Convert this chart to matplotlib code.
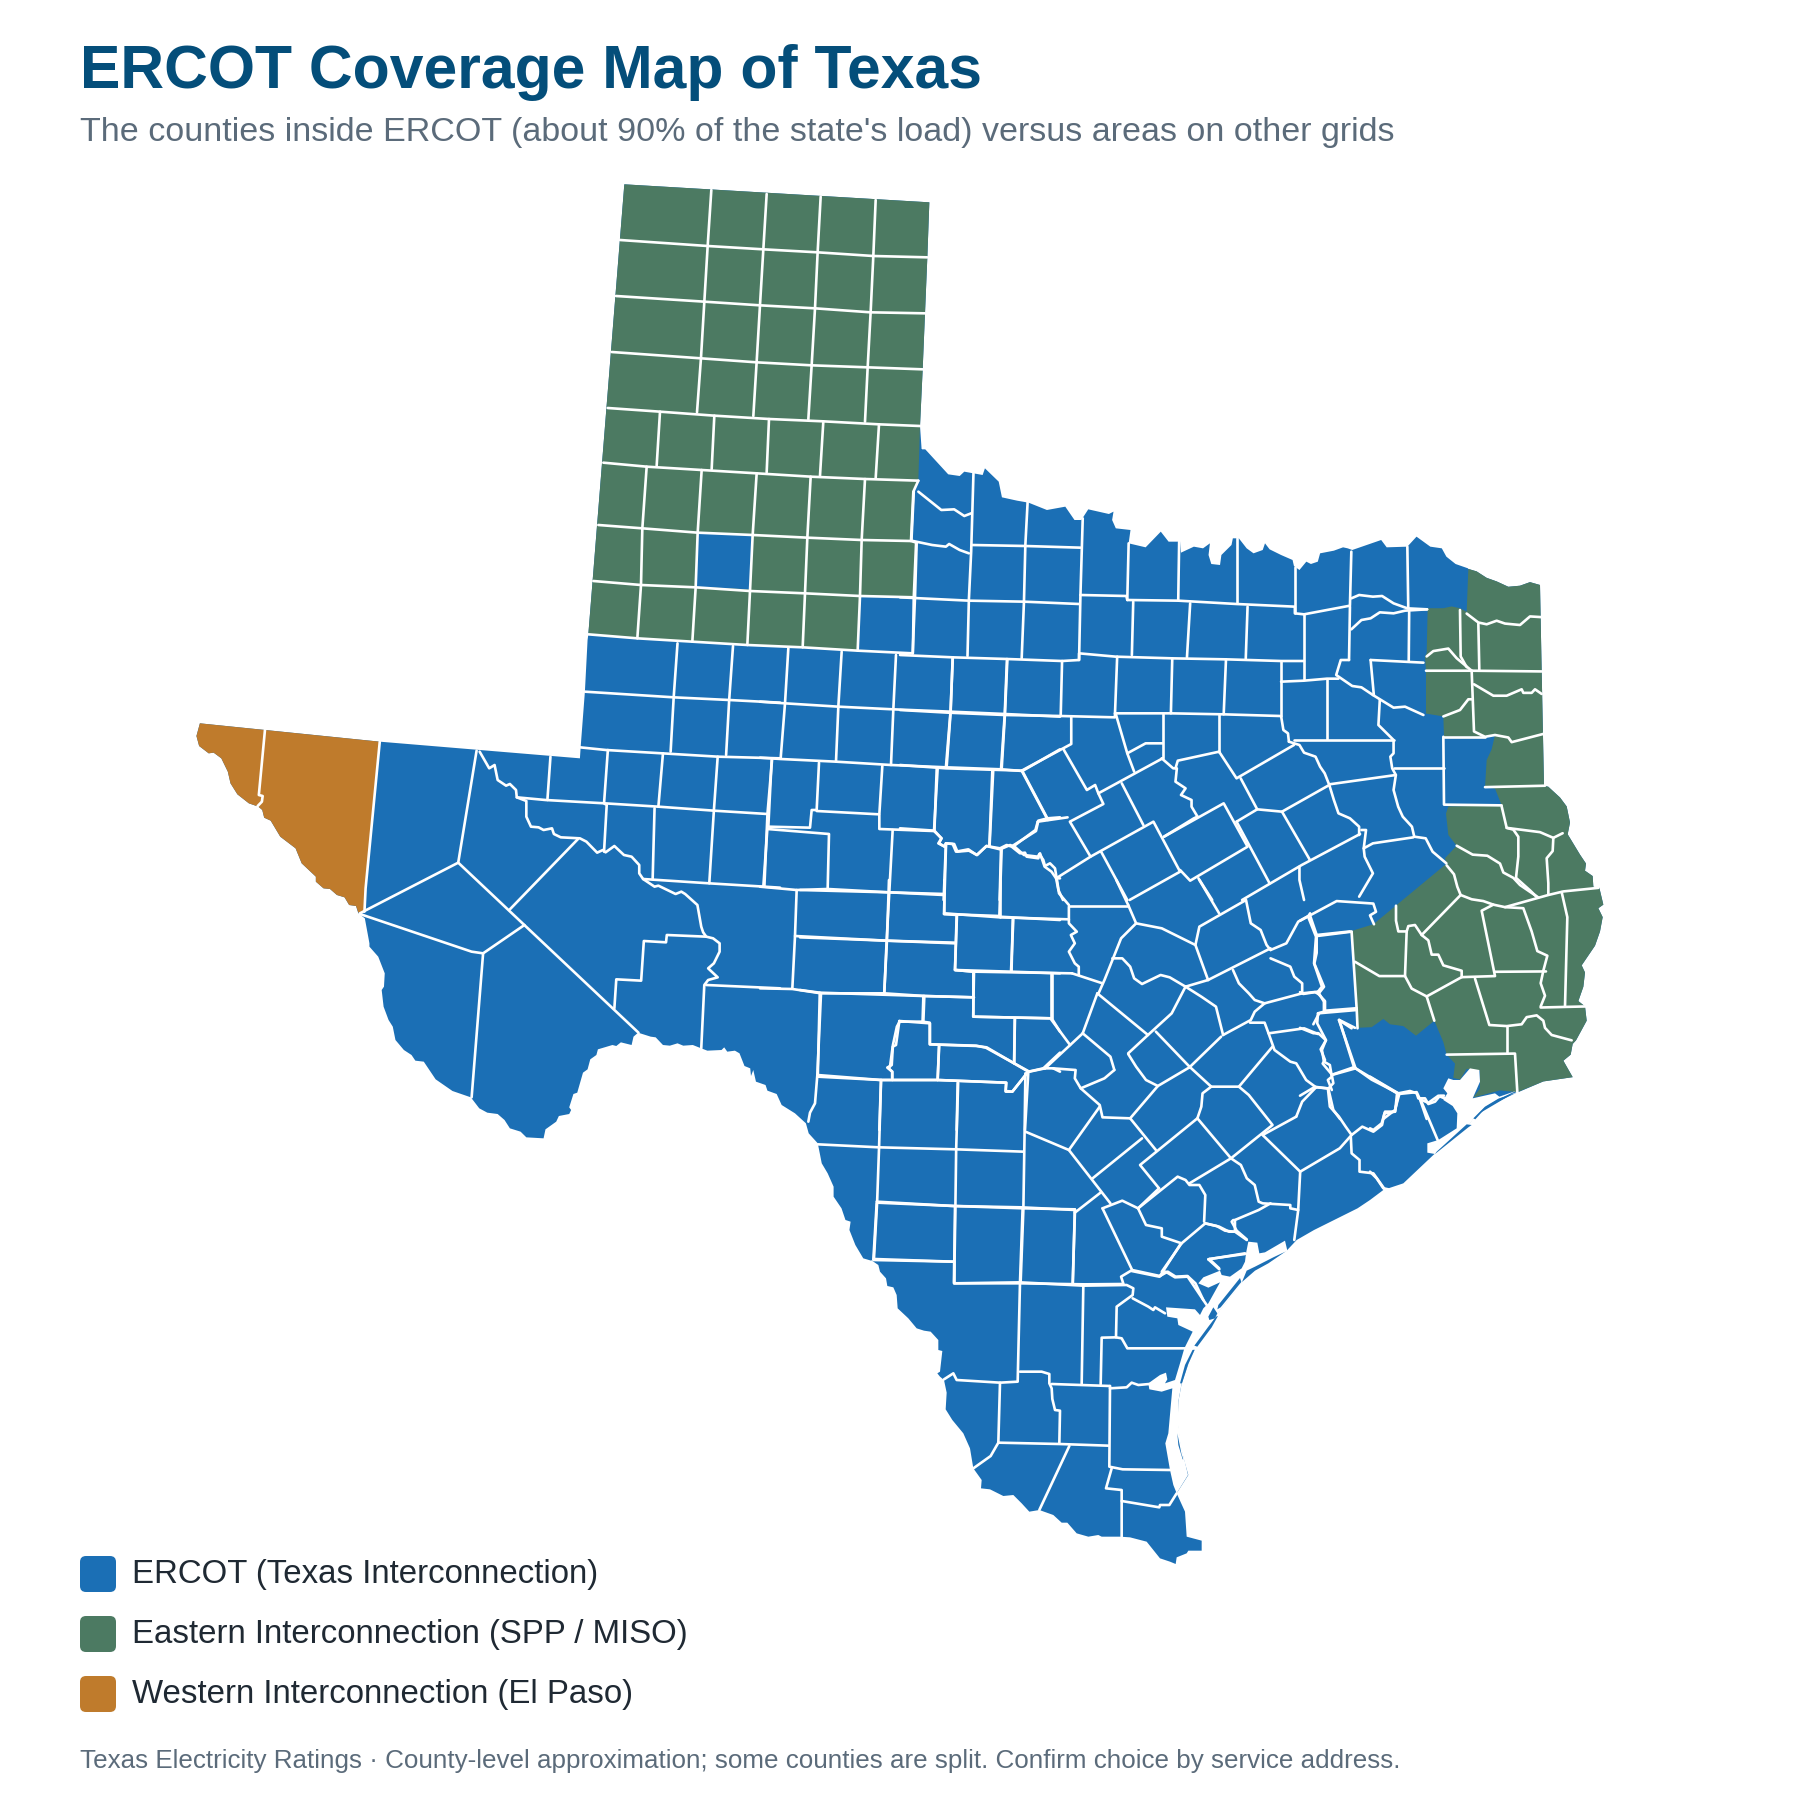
import matplotlib
matplotlib.use('Agg')
import matplotlib.pyplot as plt
from matplotlib.patches import Polygon, FancyBboxPatch

plt.rcParams['font.family'] = ['Liberation Sans', 'DejaVu Sans']

BLUE = '#1b6fb5'
GREEN = '#4c7a62'
ORANGE = '#bf7b2c'

title = 'ERCOT Coverage Map of Texas'
subtitle = "The counties inside ERCOT (about 90% of the state's load) versus areas on other grids"
footer = 'Texas Electricity Ratings · County-level approximation; some counties are split. Confirm choice by service address.'
legend_labels = ['ERCOT (Texas Interconnection)', 'Eastern Interconnection (SPP / MISO)', 'Western Interconnection (El Paso)']
legend_colors = [BLUE, GREEN, ORANGE]

crops = {
    'a': (560, 170, 3, 3),
    'b': (180, 640, 2.613, 3),
    'c': (900, 440, 2.178, 3),
    'd': (1300, 560, 3, 2.8),
    'e': (800, 880, 2.529, 3),
    'f': (800, 1200, 3, 3),
    'g': (760, 630, 3, 3),
    'h': (1370, 1030, 3, 3),
    'i': (1140, 1220, 3, 3),
}

state_outline = [
    ('a', [(193, 43), (1108, 97), (1102, 262), (1095, 430), (1088, 598), (1080, 768), (1085, 840)]),
    ('c', [(45, 28), (55, 28), (105, 103), (130, 108), (140, 95), (180, 105), (185, 85), (215, 125), (222, 172), (255, 182), (280, 188), (320, 210), (340, 205), (360, 200), (380, 240), (395, 240), (410, 208), (455, 222), (465, 215), (462, 240), (470, 265), (502, 270), (498, 310), (535, 322), (568, 275), (585, 305), (610, 305), (612, 338), (640, 320), (660, 325), (675, 310), (672, 345), (678, 372), (697, 375), (700, 345), (722, 315), (725, 295), (738, 295), (755, 325), (770, 340), (790, 330), (795, 310), (805, 328), (830, 345), (855, 360), (858, 378), (870, 390), (885, 365), (895, 372), (910, 365), (915, 340), (945, 332), (965, 322), (975, 325), (985, 330), (1048, 300), (1060, 322), (1105, 320), (1125, 290), (1155, 320), (1180, 325), (1190, 350), (1210, 372), (1237, 385)]),
    ('d', [(505, 25), (530, 32), (560, 50), (590, 60), (625, 75), (660, 72), (690, 62), (720, 70), (725, 312), (732, 632), (745, 635), (780, 665), (800, 690), (810, 735), (803, 768), (840, 825), (858, 850), (855, 870), (878, 885), (880, 915), (898, 918), (910, 965), (895, 975), (908, 1000), (900, 1040), (885, 1080), (845, 1135), (855, 1155), (850, 1195), (835, 1235), (855, 1250), (860, 1290), (828, 1345), (818, 1355), (812, 1385), (790, 1402), (818, 1448), (730, 1460), (655, 1490)]),
    ('h', [(445, 185), (430, 190), (320, 255), (310, 265), (295, 285), (190, 375), (100, 460), (40, 480), (0, 510)]),
    ('e', [(1410, 985), (1300, 1050)]),
    ('i', [(470, 60), (440, 92), (385, 128), (330, 155), (308, 185), (240, 270), (170, 375), (145, 430), (125, 490), (115, 545), (113, 610), (122, 680), (135, 730)]),
    ('f', [(1165, 825), (1130, 880), (1155, 935), (1160, 1010), (1205, 1022), (1205, 1052), (1165, 1052), (1160, 1060), (1130, 1072), (1127, 1092), (1110, 1085), (1080, 1075), (1040, 1025), (990, 1012), (960, 1010), (905, 1010), (895, 1005), (865, 1010), (830, 1000), (802, 968), (785, 968), (760, 945), (718, 930), (688, 935), (665, 910), (640, 885), (610, 888), (570, 868), (543, 865), (545, 840), (520, 805), (510, 745), (490, 700), (457, 660), (437, 628), (440, 578), (432, 540), (420, 530), (412, 520), (420, 515), (427, 453), (415, 450), (415, 420), (392, 395), (372, 392), (350, 385), (325, 355), (293, 325), (290, 285), (280, 262), (262, 258), (258, 235), (240, 215), (235, 195), (213, 180)]),
    ('e', [(180, 1142), (160, 1135), (140, 1095), (125, 1050), (128, 1025), (115, 1020), (105, 985), (85, 950), (85, 920), (70, 880), (55, 850), (45, 790), (22, 760), (15, 730)]),
    ('g', [(105, 1450), (65, 1425), (50, 1392)]),
    ('b', [(1535, 1352), (1530, 1335), (1505, 1325), (1498, 1290), (1492, 1308), (1490, 1285), (1475, 1278), (1462, 1240), (1450, 1232), (1430, 1235), (1422, 1222), (1415, 1230), (1378, 1232), (1362, 1225), (1340, 1215), (1315, 1217), (1300, 1210), (1280, 1217), (1262, 1215), (1243, 1192), (1230, 1190), (1197, 1178), (1185, 1190), (1180, 1215), (1152, 1207), (1140, 1218), (1130, 1215), (1092, 1228), (1088, 1245), (1072, 1258), (1065, 1288), (1053, 1298), (1038, 1358), (1028, 1362), (1017, 1402), (1022, 1410), (1017, 1422), (990, 1428), (983, 1445), (955, 1468), (950, 1495), (905, 1492), (890, 1475), (862, 1465), (848, 1440), (830, 1422), (803, 1418), (782, 1405), (760, 1372), (712, 1353), (668, 1318), (637, 1265), (615, 1262), (605, 1245), (585, 1230), (563, 1200), (556, 1160), (545, 1140), (532, 1100), (527, 1050), (533, 1040), (535, 1000), (518, 950), (495, 920), (495, 910), (483, 835), (466, 820), (460, 798), (442, 795), (430, 772), (410, 765), (392, 747), (375, 745), (355, 725), (355, 710), (318, 670), (302, 625), (262, 590), (237, 542), (220, 533), (215, 510), (205, 500), (180, 490), (150, 463), (132, 430), (125, 395), (108, 355), (88, 338), (75, 340), (50, 318), (43, 288), (52, 250), (522, 305), (1045, 355), (1047, 320), (1058, 155), (1065, 0)]),
    ('a', [(85, 1393)]),
]

western_region = [
    ('b', [(52, 250), (222, 270), (522, 305), (485, 745), (480, 815), (466, 818), (460, 798), (442, 795), (430, 772), (410, 765), (392, 747), (375, 745), (355, 725), (355, 710), (318, 670), (302, 625), (262, 590), (237, 542), (220, 533), (215, 510), (205, 500), (180, 490), (150, 463), (132, 430), (125, 395), (108, 355), (88, 338), (75, 340), (50, 318), (43, 288)]),
]

panhandle_region = [
    ('a', [(193, 43), (1108, 97), (1102, 262), (1095, 430), (1088, 598), (1080, 768), (1075, 932), (1060, 965), (1053, 1113), (1070, 1118), (1065, 1282), (900, 1278), (893, 1442), (728, 1432), (562, 1425), (397, 1415), (232, 1405), (85, 1393)]),
]

ercot_panhandle_county = [
    ('a', [(413, 1090), (575, 1095), (570, 1258), (408, 1250)]),
]

eastern_region = [
    ('d', [(505, 25), (530, 32), (560, 50), (590, 60), (625, 75), (660, 72), (690, 62), (720, 70), (725, 312), (732, 632), (745, 635), (780, 665), (800, 690), (810, 735), (803, 768), (840, 825), (858, 850), (855, 870), (878, 885), (880, 915), (898, 918), (910, 965), (895, 975), (908, 1000), (900, 1040), (885, 1080), (845, 1135), (855, 1155), (850, 1195), (835, 1235), (855, 1250), (860, 1290), (828, 1345), (818, 1355), (812, 1385), (790, 1402), (818, 1448), (730, 1460), (652, 1490), (600, 1485), (520, 1505), (540, 1480), (540, 1430), (500, 1425), (480, 1455), (460, 1450), (465, 1410), (440, 1385), (430, 1350), (403, 1290), (348, 1332), (310, 1305), (270, 1300), (250, 1285), (215, 1308), (170, 1310), (165, 1125), (150, 1040), (220, 1020), (440, 850), (435, 835), (470, 800), (445, 770), (438, 710), (445, 690), (605, 687), (585, 640), (555, 636), (560, 560), (575, 530), (585, 490), (555, 495), (432, 495), (430, 438), (378, 430), (378, 310), (375, 270), (380, 260), (383, 135), (430, 135), (455, 130), (480, 135), (500, 145)]),
]

# bays and the laguna, painted white over the land
laguna_madre = [
    ('i', [(318, 100), (325, 65), (352, 68), (358, 100), (375, 97), (435, 62), (442, 92), (385, 130), (330, 158), (308, 188), (240, 272), (170, 378), (145, 432), (125, 490), (115, 545), (115, 610), (124, 680), (144, 765), (110, 820), (100, 795), (90, 750), (76, 670), (85, 640), (97, 505), (65, 515), (28, 508), (25, 490), (60, 465), (78, 458), (82, 478), (75, 490), (105, 480), (120, 430), (133, 385), (158, 335), (115, 315), (112, 295), (82, 290), (78, 262), (165, 268), (180, 285), (190, 265), (205, 250), (240, 187), (205, 203), (175, 190), (190, 172), (240, 152), (245, 165), (270, 170), (305, 145), (315, 125)]),
]
galveston_bay = [
    ('h', [(172, 340), (205, 330), (260, 295), (262, 250), (248, 228), (220, 210), (232, 190), (220, 175), (235, 145), (250, 150), (270, 150), (300, 115), (328, 120), (330, 155), (308, 205), (375, 190), (388, 200), (440, 182), (385, 208), (345, 232), (310, 267), (295, 287), (195, 372), (172, 368)]),
]
barrier_islands = [
    ('i', [(436, 95), (400, 112), (345, 140), (320, 152), (306, 186), (345, 152), (385, 130)]),
    ('i', [(300, 174), (235, 255), (232, 268), (242, 262), (304, 186)]),
    ('i', [(228, 290), (205, 320), (163, 377), (172, 380), (215, 322), (234, 288)]),
    ('i', [(160, 385), (135, 435), (120, 490), (126, 490), (145, 432), (166, 385)]),
    ('i', [(112, 640), (124, 700), (130, 718), (128, 718), (115, 675)]),
    ('i', [(205, 290), (220, 262), (232, 280), (225, 295), (208, 300)]),
    ('h', [(440, 188), (385, 206), (345, 230), (310, 265), (316, 268), (345, 236), (390, 212)]),
    ('h', [(305, 285), (290, 283), (200, 365), (195, 372), (295, 292)]),
]

panhandle_lines = [
    [(454, 60), (443, 228), (433, 395), (423, 563), (411, 727)],
    [(620, 72), (610, 238), (600, 405), (590, 575), (580, 738)],
    [(782, 80), (773, 245), (765, 415), (755, 585), (745, 748)],
    [(947, 90), (940, 257), (932, 425), (923, 592), (915, 755)],
    [(180, 210), (443, 228), (610, 238), (773, 247), (940, 258), (1102, 262)],
    [(168, 378), (433, 395), (600, 406), (765, 415), (932, 427), (1095, 430)],
    [(155, 546), (423, 565), (590, 577), (755, 586), (923, 592), (1088, 598)],
    [(143, 714), (300, 725), (463, 737), (627, 747), (790, 754), (957, 763), (1080, 768)],
    [(130, 878), (260, 890), (425, 900), (590, 910), (752, 920), (915, 927), (1075, 932)],
    [(115, 1065), (247, 1075), (413, 1088), (578, 1095), (742, 1103), (905, 1110), (1053, 1113)],
    [(100, 1233), (243, 1245), (407, 1252), (570, 1263), (735, 1270), (900, 1278), (1065, 1282)],
    [(85, 1393), (232, 1405), (397, 1415), (562, 1425), (728, 1432), (893, 1442), (1058, 1450)],
    [(300, 725), (290, 887)], [(463, 737), (455, 897)], [(627, 747), (620, 907)],
    [(790, 754), (780, 917)], [(957, 763), (947, 925)],
    [(260, 890), (247, 1075), (243, 1245), (232, 1405)],
    [(425, 900), (413, 1088), (407, 1252), (397, 1415)],
    [(590, 910), (578, 1095), (570, 1263), (562, 1425)],
    [(752, 920), (742, 1103), (735, 1270), (728, 1432)],
    [(915, 927), (905, 1110), (900, 1278), (893, 1442)],
    [(1065, 1282), (1058, 1450)],
    [(1075, 932), (1060, 965), (1053, 1113), (1070, 1118), (1065, 1282)],
]

west_lines = [
    [(222, 270), (206, 465), (216, 468), (214, 485), (203, 498)],
    [(522, 305), (485, 745), (482, 815)],
    [(775, 332), (727, 668), (470, 820)],
    [(470, 822), (762, 935), (792, 940), (900, 855)],
    [(792, 940), (762, 1372)],
    [(727, 668), (1198, 1178)],
    [(862, 808), (1040, 597)],
    [(783, 335), (808, 385), (822, 375), (830, 420), (852, 437), (862, 432), (878, 450), (880, 472), (905, 483), (905, 530), (917, 560), (937, 562), (950, 570), (972, 565), (977, 582), (995, 592), (1045, 595), (1062, 605), (1090, 638), (1105, 630), (1112, 637), (1135, 618), (1160, 645), (1180, 650), (1200, 675), (1200, 700), (1210, 717), (1240, 740), (1250, 737), (1295, 762), (1310, 755), (1320, 762), (1352, 795), (1362, 860), (1367, 877), (1375, 890), (1393, 895), (1410, 910), (1410, 935), (1395, 970), (1380, 985), (1405, 1012), (1380, 1020), (1370, 1035), (1362, 1225)],
    [(880, 472), (955, 480), (1110, 490), (1250, 500), (1395, 512), (1535, 522)],
    [(968, 350), (960, 480)],
    [(1118, 330), (1108, 490), (1115, 495), (1108, 635)],
    [(1262, 340), (1250, 500)], [(1240, 505), (1235, 718)],
    [(1405, 350), (1395, 512), (1383, 730)],
    [(1547, 360), (1535, 522), (1527, 740)],
    [(1045, 322), (1113, 330), (1260, 340), (1405, 350), (1568, 355)],
    [(1058, 155), (1290, 172), (1435, 180), (1568, 188)],
    [(1300, 10), (1290, 172), (1282, 335)],
    [(1445, 18), (1435, 180), (1427, 345)],
    [(1210, 717), (1383, 730), (1527, 740), (1568, 743)],
    [(1375, 1035), (1568, 1045)],
    [(1135, 1105), (1140, 1018), (1205, 1022), (1212, 903), (1270, 907), (1272, 885), (1375, 890)],
]

central_lines = [
    [(85, 55), (75, 220), (62, 385)], [(245, 65), (235, 230), (228, 395)],
    [(408, 75), (400, 238), (393, 405)], [(578, 82), (572, 245), (560, 410)],
    [(742, 90), (735, 250), (725, 418)],
    [(0, 215), (75, 220), (235, 230), (400, 238), (572, 245), (735, 252), (900, 260)],
    [(0, 383), (62, 387), (228, 395), (393, 405), (560, 412), (725, 418), (787, 423), (900, 358)],
    [(35, 390), (25, 590), (150, 593), (155, 540), (170, 540), (177, 398)],
    [(170, 543), (357, 553)],
    [(367, 408), (358, 553), (358, 597), (520, 603)],
    [(533, 415), (522, 603), (545, 625), (535, 640), (555, 650), (558, 640), (578, 642), (588, 665), (625, 658), (650, 675), (680, 648), (720, 655), (740, 645), (755, 650), (780, 670), (795, 668), (800, 680), (835, 685), (838, 672), (850, 690), (855, 708), (870, 700), (885, 715), (890, 745), (900, 745)],
    [(697, 422), (688, 650)],
    [(787, 423), (862, 565), (835, 572), (828, 603), (757, 648)],
    [(862, 565), (900, 562)],
    [(22, 597), (207, 612), (203, 775)],
    [(22, 597), (10, 770)],
    [(398, 600), (388, 785), (380, 930), (373, 1087)],
    [(558, 645), (552, 852), (590, 855), (585, 1020), (640, 1025)],
    [(725, 655), (718, 860), (900, 870)],
    [(552, 852), (718, 858)],
    [(0, 770), (110, 780), (203, 777), (388, 787), (552, 795)],
    [(110, 780), (105, 918), (97, 1075)],
    [(105, 918), (380, 932), (585, 940)],
    [(0, 1075), (97, 1077), (183, 1090), (373, 1090), (493, 1098), (640, 1102)],
    [(585, 1020), (752, 1025), (900, 1030)],
    [(760, 868), (753, 1025)],
    [(875, 1033), (875, 1165)],
    [(640, 1025), (640, 1160), (875, 1165), (900, 1205)],
    [(765, 1165), (762, 1300)],
    [(493, 1098), (490, 1177)],
    [(183, 1090), (172, 1335), (363, 1350), (400, 1350), (533, 1350), (738, 1358), (737, 1385), (757, 1385), (805, 1325)],
    [(418, 1173), (510, 1180), (510, 1243), (650, 1248), (680, 1252), (805, 1325)],
    [(418, 1173), (408, 1245), (398, 1250), (390, 1310), (382, 1313), (397, 1325), (397, 1350)],
    [(537, 1248), (533, 1350)],
    [(363, 1350), (358, 1500)], [(593, 1358), (590, 1500)], [(805, 1325), (795, 1500)],
    [(805, 1325), (850, 1315), (880, 1315), (900, 1325)],
    [(850, 1315), (900, 1268)],
    [(172, 1335), (165, 1420), (150, 1448), (145, 1475)],
]

north_east_lines = [
    [(40, 155), (90, 210), (118, 208), (140, 228), (155, 220)],
    [(160, 100), (155, 335), (150, 480), (147, 648)],
    [(278, 185), (273, 315), (270, 485), (265, 655)],
    [(398, 235), (393, 465), (390, 660)],
    [(498, 310), (495, 480)], [(608, 305), (606, 480)], [(733, 295), (733, 490)],
    [(860, 380), (860, 520)], [(983, 335), (980, 495)], [(980, 500), (978, 660)],
    [(1105, 320), (1107, 505)], [(1109, 515), (1108, 665)],
    [(30, 155), (25, 300)], [(35, 310), (30, 472), (28, 640)],
    [(157, 315), (273, 318), (393, 323)],
    [(25, 302), (70, 315), (100, 320), (107, 312), (130, 330), (150, 340)],
    [(0, 472), (150, 482), (270, 485), (390, 492)],
    [(393, 465), (493, 468), (495, 480), (606, 482), (733, 492), (860, 500), (860, 520), (880, 523), (980, 497)],
    [(880, 523), (880, 718)],
    [(508, 485), (505, 645)], [(632, 490), (625, 652)], [(757, 500), (753, 658)],
    [(0, 645), (115, 652), (233, 657), (353, 663), (390, 660), (390, 640), (470, 650), (593, 655), (710, 658), (830, 663), (880, 663)],
    [(115, 652), (110, 815), (100, 982)], [(233, 657), (228, 825), (220, 988)],
    [(353, 663), (350, 828)], [(473, 650), (468, 830)], [(593, 655), (590, 820)],
    [(710, 658), (705, 823)], [(830, 663), (830, 828)],
    [(0, 810), (105, 818), (228, 825), (350, 828), (468, 832)],
    [(468, 820), (590, 820), (705, 823), (828, 828)],
    [(830, 725), (880, 722), (930, 716), (955, 716)],
    [(930, 716), (930, 898)],
    [(983, 475), (1000, 465), (1030, 470), (1050, 468), (1075, 490), (1105, 505), (1148, 508)],
    [(983, 568), (1005, 540), (1025, 535), (1045, 517), (1075, 520), (1100, 512), (1148, 508)],
    [(978, 660), (960, 660), (950, 705), (985, 738), (1005, 742), (1030, 765)],
    [(1025, 660), (1032, 765)], [(1025, 660), (1140, 668)],
    [(1030, 765), (1075, 803), (1100, 800), (1140, 825)],
    [(1045, 780), (1042, 855), (1075, 900), (1075, 940), (1068, 950), (1072, 985), (1080, 1005), (1075, 1050), (1085, 1100), (1095, 1130), (1115, 1160), (1120, 1190), (1145, 1195), (1160, 1235), (1190, 1270)],
    [(1075, 983), (1185, 983)],
    [(858, 900), (1075, 900)],
    [(847, 905), (870, 915), (880, 938), (905, 950), (915, 980), (925, 1000), (935, 1035), (945, 1080), (955, 1120), (980, 1135), (1000, 1160), (1000, 1185)],
    [(935, 1033), (1080, 1005)],
    [(1002, 1182), (875, 1275), (745, 1380)],
    [(1005, 1170), (1015, 1170), (1010, 1225), (1030, 1210), (1118, 1192)],
    [(830, 828), (835, 870), (845, 880), (847, 905)],
    [(858, 915), (733, 1015), (695, 935)],
    [(695, 823), (695, 935)], [(572, 822), (572, 955)],
    [(695, 935), (605, 962), (600, 985)],
    [(570, 955), (595, 985), (603, 985), (600, 1025), (622, 1045), (612, 1065), (635, 1080), (635, 1100), (648, 1130)],
    [(470, 822), (495, 940), (510, 995)],
    [(495, 940), (535, 910), (572, 910)],
    [(572, 955), (432, 1060), (425, 1035), (407, 1050), (357, 930)],
    [(373, 830), (373, 912), (265, 992)],
    [(265, 992), (220, 990), (100, 985), (0, 975)],
    [(80, 985), (75, 1172), (0, 1165)],
    [(75, 1172), (90, 1195), (85, 1210), (97, 1220), (100, 1210), (118, 1212), (125, 1235), (150, 1232), (168, 1245), (188, 1218), (218, 1228), (240, 1215), (248, 1220)],
    [(203, 992), (195, 1220)], [(100, 1210), (95, 1380)], [(220, 1225), (217, 1380)],
    [(265, 992), (322, 1140)],
    [(300, 1145), (365, 1132)], [(300, 1145), (295, 1170), (248, 1218)],
    [(248, 1218), (270, 1245), (300, 1250), (305, 1240), (315, 1280), (330, 1295), (340, 1315), (345, 1350), (355, 1380)],
    [(432, 1060), (443, 1092), (370, 1145), (415, 1250)],
    [(483, 1030), (530, 1155)],
    [(340, 1315), (415, 1250), (552, 1145), (610, 1295), (500, 1380)],
    [(438, 1235), (495, 1380)],
    [(575, 1190), (705, 1090), (757, 1220), (632, 1322), (610, 1290)],
    [(575, 1190), (640, 1135), (648, 1130)],
    [(733, 1145), (778, 1108), (832, 1115), (935, 1035)],
    [(742, 1015), (778, 1108)],
    [(733, 1145), (805, 1330)],
    [(832, 1115), (892, 1258)],
    [(650, 1315), (680, 1380)],
    [(1000, 1370), (1030, 1300), (1012, 1250), (1010, 1225)],
    [(870, 1280), (870, 1320), (880, 1380)],
]

east_lines = [
    [(480, 140), (482, 270), (500, 300)], [(535, 178), (538, 310)],
    [(380, 270), (400, 255), (445, 248), (470, 275), (515, 310)],
    [(378, 310), (515, 310), (725, 312)],
    [(515, 310), (522, 480), (555, 495), (585, 490), (625, 497), (635, 510), (730, 487)],
    [(725, 160), (690, 158), (660, 182), (615, 178), (590, 170), (560, 180), (535, 175), (500, 150)],
    [(522, 348), (580, 380), (620, 380), (665, 362), (670, 372), (695, 372), (705, 362), (725, 375)],
    [(515, 390), (505, 390), (480, 420), (430, 438)],
    [(432, 495), (555, 495)],
    [(555, 636), (735, 632)],
    [(430, 495), (432, 685), (605, 687)],
    [(605, 690), (620, 750), (640, 755), (655, 775), (655, 830), (648, 890), (690, 925), (712, 945)],
    [(620, 750), (720, 762), (760, 778), (788, 765)],
    [(760, 778), (758, 815), (740, 835), (745, 905), (745, 935)],
    [(470, 800), (518, 825), (562, 828), (600, 850), (610, 875), (640, 890), (660, 910), (715, 945)],
    [(440, 855), (462, 880), (472, 915), (482, 938), (515, 950), (550, 955), (580, 965), (615, 972), (745, 938), (790, 928), (895, 918)],
    [(482, 938), (365, 1050), (345, 1022), (325, 1025), (320, 1040), (295, 1040), (288, 1010), (288, 968)],
    [(320, 1040), (315, 1165), (238, 1165), (165, 1125)],
    [(315, 1165), (335, 1200), (380, 1222), (485, 1168), (485, 1150), (430, 1135), (415, 1105), (395, 1105), (385, 1065), (365, 1050)],
    [(380, 1222), (403, 1290)],
    [(485, 1168), (585, 1165), (545, 982), (580, 965)],
    [(585, 1153), (738, 1152)],
    [(615, 972), (670, 975), (695, 1040), (712, 1095), (742, 1108), (730, 1150), (722, 1185), (735, 1220), (722, 1250)],
    [(525, 1172), (568, 1302), (620, 1305), (665, 1300), (680, 1280), (710, 1275), (730, 1290), (735, 1310), (755, 1330), (815, 1345)],
    [(722, 1253), (858, 1250)],
    [(785, 930), (802, 1000), (795, 1250)],
    [(620, 1305), (620, 1380)],
    [(440, 1385), (645, 1382), (652, 1490)],
    [(50, 1050), (150, 1040)],
    [(50, 1050), (50, 1100), (43, 1130), (72, 1195), (55, 1215), (75, 1235), (75, 1262), (170, 1255)],
    [(118, 1288), (162, 1420), (100, 1440)], [(118, 1288), (165, 1310)],
    [(162, 1420), (215, 1455), (298, 1495), (350, 1490), (360, 1510), (385, 1520), (415, 1500), (440, 1510), (470, 1525)],
    [(298, 1495), (285, 1540), (250, 1565)],
    [(360, 1510), (380, 1565)],
    [(0, 1010), (30, 995), (50, 985), (110, 955), (220, 962), (228, 985), (210, 995), (222, 1020)],
    [(30, 995), (50, 1050)],
    [(0, 1310), (40, 1325), (55, 1325), (78, 1345), (62, 1370), (75, 1400), (68, 1410), (95, 1440), (100, 1465), (85, 1480), (45, 1475), (0, 1500)],
    [(57, 1270), (40, 1300)],
    [(85, 1480), (100, 1540), (120, 1565)],
    [(0, 1210), (10, 1215), (45, 1210), (55, 1215)],
]

south_central_lines = [
    [(0, 30), (225, 37), (365, 42)], [(0, 172), (218, 182), (392, 188)],
    [(225, 0), (220, 180), (213, 338)],
    [(365, 0), (365, 100), (505, 112), (680, 118)], [(505, 0), (505, 112)],
    [(397, 105), (392, 270), (440, 275), (688, 280)],
    [(538, 118), (535, 275)],
    [(440, 278), (438, 410), (635, 415)], [(635, 283), (635, 415)],
    [(688, 280), (765, 310)],
    [(0, 330), (50, 338), (312, 348), (440, 352)],
    [(50, 338), (45, 588)],
    [(312, 348), (310, 425), (252, 425), (245, 440), (235, 495), (232, 555), (222, 562), (233, 575), (233, 595)],
    [(310, 425), (328, 428), (328, 493), (445, 497), (470, 503), (580, 575)],
    [(352, 497), (348, 600)],
    [(543, 418), (542, 548)],
    [(45, 590), (205, 600), (348, 600), (522, 608), (520, 633), (537, 635), (575, 578)],
    [(205, 600), (200, 800), (195, 968), (187, 1137)],
    [(400, 608), (395, 805), (393, 978)],
    [(570, 580), (568, 755), (565, 980)],
    [(45, 793), (200, 802), (395, 808), (565, 815)],
    [(195, 968), (390, 978), (565, 985), (695, 988)],
    [(187, 1137), (388, 1145)],
    [(393, 982), (390, 1207)], [(565, 985), (558, 1207)], [(695, 988), (690, 1210)],
    [(390, 1145), (390, 1210), (558, 1210), (720, 1213), (815, 1212)],
    [(580, 575), (620, 565)],
    [(635, 418), (683, 495)],
    [(620, 565), (715, 460)],
    [(715, 460), (752, 340)],
    [(715, 460), (785, 530), (795, 570)],
    [(752, 340), (880, 465)],
    [(830, 520), (880, 465), (940, 400), (975, 320)],
    [(755, 340), (770, 300), (812, 175), (850, 130)],
    [(790, 235), (815, 235), (835, 260), (845, 295), (865, 312), (912, 285), (935, 292), (975, 320)],
    [(830, 75), (850, 130), (915, 145), (1000, 195), (1032, 300)],
    [(1000, 195), (1010, 140), (1128, 60), (1140, 130), (1165, 150), (1180, 195), (1190, 210)],
    [(1060, 100), (1010, 0)], [(830, 75), (800, 0)],
    [(680, 78), (830, 78)],
    [(650, 0), (655, 40), (680, 75)],
    [(680, 80), (680, 130), (700, 155), (685, 165), (695, 190), (680, 215), (695, 250), (705, 260), (705, 285)],
    [(1032, 300), (1190, 205)],
    [(975, 320), (1032, 300)],
    [(975, 320), (1015, 350), (1052, 380), (1070, 465)],
    [(1070, 465), (1140, 420), (1150, 395), (1175, 370), (1150, 360), (1135, 340), (1110, 310), (1095, 270)],
    [(1175, 370), (1270, 340), (1310, 335), (1320, 320), (1300, 250), (1305, 170), (1285, 110), (1290, 100)],
    [(1190, 235), (1240, 260), (1250, 290), (1270, 310), (1270, 340)],
    [(1190, 210), (1230, 190), (1260, 125), (1290, 105)],
    [(1310, 335), (1325, 365), (1325, 395), (1310, 400), (1308, 430), (1330, 480), (1320, 510), (1325, 545), (1340, 555), (1345, 590), (1335, 600), (1345, 630)],
    [(1310, 400), (1408, 390)],
    [(1138, 428), (1175, 428), (1185, 460), (1275, 445), (1310, 462)],
    [(1185, 460), (1200, 510), (1240, 545), (1255, 550), (1280, 600), (1305, 622)],
    [(1345, 585), (1405, 565), (1510, 640), (1505, 695), (1478, 700), (1472, 735), (1450, 755), (1422, 740), (1395, 765), (1380, 740), (1363, 710), (1340, 680), (1335, 625), (1305, 622)],
    [(1363, 420), (1405, 565)], [(1363, 420), (1395, 445)],
    [(1195, 500), (1110, 620), (1040, 620), (985, 560), (900, 455)],
    [(985, 562), (1065, 470)],
    [(985, 562), (905, 618), (875, 600), (850, 560), (830, 522)],
    [(905, 618), (835, 715), (765, 712), (758, 675), (710, 625), (695, 595), (697, 570), (640, 565)],
    [(710, 625), (770, 595), (795, 570)],
    [(835, 715), (900, 810)],
    [(1040, 620), (1018, 640), (1015, 680), (1005, 715), (860, 855), (908, 925)],
    [(1005, 715), (1090, 835)],
    [(1110, 620), (1135, 645), (1195, 735), (1090, 835), (985, 910)],
    [(1255, 710), (1170, 765)],
    [(1305, 622), (1270, 665), (1255, 710)],
    [(1170, 765), (1265, 875), (1365, 805), (1395, 765)],
    [(1090, 835), (1115, 855), (1130, 895), (1150, 915), (1160, 965), (1170, 970), (1240, 975), (1240, 985), (1260, 990)],
    [(1265, 875), (1260, 990), (1250, 1080)],
    [(758, 680), (680, 810), (570, 755)],
    [(865, 775), (740, 895)],
    [(680, 810), (785, 970)],
    [(760, 938), (695, 998)],
    [(855, 985), (955, 890), (975, 900), (985, 915), (1010, 915), (1025, 945), (1022, 1025)],
    [(908, 925), (855, 985)],
    [(765, 985), (815, 962), (855, 985), (875, 1035), (915, 1045), (915, 1070), (965, 1090), (1025, 1030), (1060, 1040), (1085, 1055), (1100, 1055)],
    [(765, 985), (840, 1170), (910, 1188)],
    [(965, 1090), (915, 1175)],
    [(1100, 1020), (1100, 1055), (1130, 1080)],
    [(1100, 1020), (1160, 990), (1190, 970)],
    [(1035, 1137), (1125, 1122)],
    [(1035, 1137), (1060, 1165)],
    [(840, 1170), (812, 1190), (818, 1212)],
    [(910, 1188), (930, 1175), (950, 1190), (980, 1188), (1000, 1210), (1020, 1260)],
    [(1393, 770), (1395, 820), (1415, 840), (1415, 875), (1450, 880), (1480, 930)],
    [(1395, 155), (1308, 168)],
    [(1395, 155), (1408, 390), (1410, 445)],
]

south_lines = [
    [(230, 10), (220, 180), (460, 185)],
    [(465, 20), (462, 250), (660, 247), (850, 257), (980, 255), (1000, 265), (998, 285), (950, 320), (948, 412), (905, 413), (902, 553)],
    [(230, 5), (460, 18), (665, 22), (825, 30)],
    [(825, 30), (818, 250)],
    [(668, 22), (660, 247), (653, 545), (600, 548), (470, 540), (460, 520), (432, 538)],
    [(660, 515), (725, 515), (748, 522), (748, 550), (755, 565), (757, 597), (765, 630), (780, 632), (778, 730)],
    [(600, 548), (595, 728)],
    [(595, 728), (778, 732), (925, 737)],
    [(595, 728), (572, 768), (520, 805)],
    [(808, 738), (718, 930)],
    [(755, 552), (930, 558)],
    [(850, 257), (845, 552)],
    [(930, 558), (928, 800), (968, 808), (1110, 810)],
    [(935, 805), (918, 865), (965, 870), (965, 1010)],
    [(965, 903), (1078, 922), (1080, 915), (1108, 915), (1130, 880)],
    [(930, 565), (980, 562), (995, 548), (1015, 555), (1048, 552)],
    [(948, 412), (965, 415), (982, 445), (1155, 445)],
    [(998, 295), (1045, 320), (1060, 330), (1065, 322), (1095, 340)],
    [(995, 213), (1078, 230), (1097, 215), (1125, 232), (1163, 230), (1220, 315)],
    [(1185, 443), (1170, 443)],
    [(1225, 178), (1335, 160)],
    [(1225, 178), (1258, 208)],
    [(1143, 130), (1080, 228)],
    [(1215, 70), (1250, 78), (1275, 92), (1300, 95)],
    [(1300, 60), (1295, 65), (1310, 92), (1340, 118)],
]

gulf_lines = [
    [(0, 140), (85, 190), (75, 245), (45, 245), (35, 280), (10, 300), (0, 295)],
    [(85, 190), (120, 183), (140, 190), (145, 205), (165, 205), (175, 222), (195, 215), (210, 197), (222, 197)],
    [(150, 205), (205, 335)],
    [(0, 425), (20, 445), (40, 475), (55, 478)],
]

line_groups = [
    ('a', panhandle_lines), ('b', west_lines), ('g', central_lines), ('c', north_east_lines),
    ('d', east_lines), ('e', south_central_lines), ('f', south_lines), ('h', gulf_lines),
]


def to_px(crop, points):
    x0, y0, sx, sy = crops[crop]
    return [(x0 + x / sx, y0 + y / sy) for x, y in points]


def join_parts(parts):
    points = []
    for crop, part in parts:
        points += to_px(crop, part)
    return points


def draw_shape(ax, parts, color, edge='none', z=1):
    ax.add_patch(Polygon(join_parts(parts), closed=True, facecolor=color, edgecolor=edge, linewidth=1.8, joinstyle='round', zorder=z))


fig = plt.figure(figsize=(18, 18), dpi=100)
ax = fig.add_axes([0, 0, 1, 1])
ax.set_xlim(0, 1800)
ax.set_ylim(1800, 0)
ax.axis('off')

draw_shape(ax, state_outline, BLUE, z=1)
draw_shape(ax, panhandle_region, GREEN, z=2)
draw_shape(ax, ercot_panhandle_county, BLUE, z=2)
draw_shape(ax, eastern_region, GREEN, z=2)
draw_shape(ax, western_region, ORANGE, z=2)
draw_shape(ax, laguna_madre, 'white', z=2)
draw_shape(ax, galveston_bay, 'white', z=2)
for island in barrier_islands:
    draw_shape(ax, [island], BLUE, z=3)

for crop, group in line_groups:
    for line in group:
        pts = to_px(crop, line)
        ax.plot([p[0] for p in pts], [p[1] for p in pts], color='white', lw=1.9, solid_capstyle='round', solid_joinstyle='round', zorder=4)

ax.text(80, 72.5, title, fontsize=43.7, fontweight='bold', color='#044e7a', va='center', ha='left')
ax.text(80, 132, subtitle, fontsize=24.5, color='#5b6b7a', va='center', ha='left')

legend_y = [1575, 1635, 1695]
for y, label, color in zip(legend_y, legend_labels, legend_colors):
    ax.add_patch(FancyBboxPatch((85, y - 14), 26, 26, boxstyle='round,pad=5,rounding_size=6', facecolor=color, edgecolor='none', zorder=5))
    ax.text(132, y, label, fontsize=23.8, color='#1f2933', va='center', ha='left')

ax.text(80, 1761, footer, fontsize=18.7, color='#5b6b7a', va='center', ha='left')

fig.savefig('out.png', dpi=100, facecolor='white')
